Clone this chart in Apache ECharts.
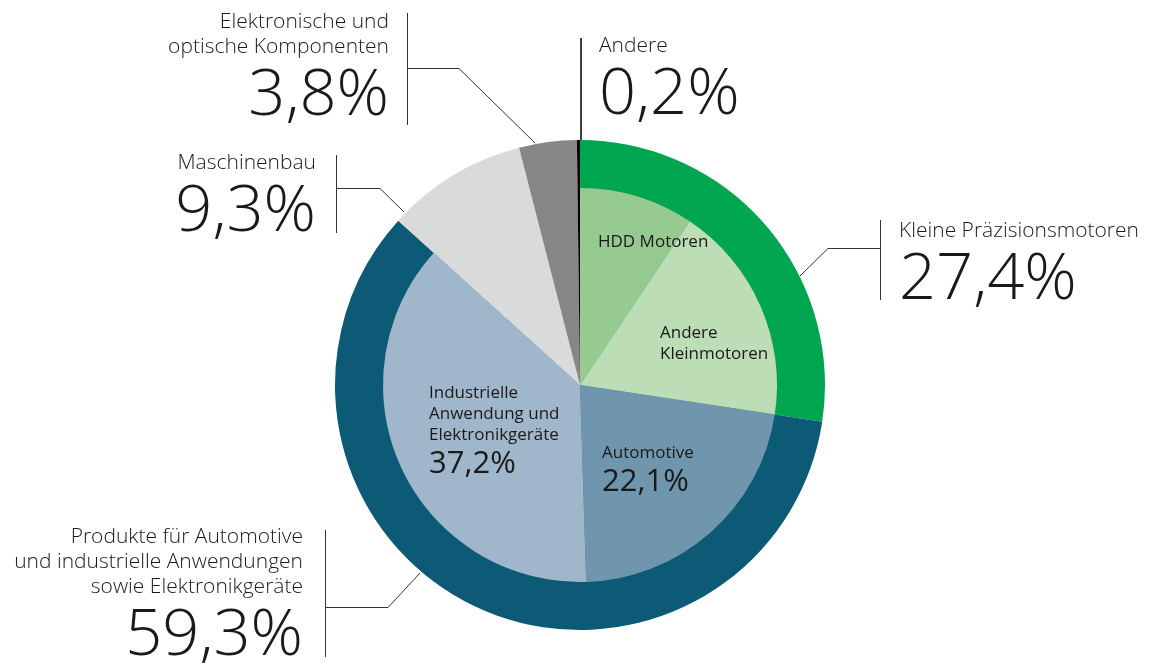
<!DOCTYPE html>
<html>
<head>
<meta charset="utf-8">
<script src="https://cdn.jsdelivr.net/npm/echarts@6/dist/echarts.min.js"></script>
<style>
  html, body { margin: 0; padding: 0; background: #fff; }
  #chart { width: 1158px; height: 664px; }
</style>
</head>
<body>
<div id="chart"></div>
<script>
// Umsatz nach Segmenten (Prozent)
const segmentNames = [
  'Kleine Präzisionsmotoren',
  'Produkte für Automotive\nund industrielle Anwendungen\nsowie Elektronikgeräte',
  'Maschinenbau',
  'Elektronische und\noptische Komponenten',
  'Andere'
];
const segmentValues = [27.4, 59.3, 9.3, 3.8, 0.2];

// Aufteilung der beiden großen Segmente
const subNames = [
  'HDD Motoren',
  'Andere\nKleinmotoren',
  'Automotive',
  'Industrielle\nAnwendung und\nElektronikgeräte'
];
const subValues = [9.4, 18.0, 22.1, 37.2];
const subShowValue = [false, false, true, true];

const FONT = '"Open Sans", "Liberation Sans", sans-serif';
const TEXT = '#1a1a1a';

const segmentColors = ['#00a54f', '#0c5a75', '#d9dada', '#878787', '#000000'];
const subColors = ['#97ca91', '#bcddb5', '#6f96ad', '#a0b7cb'];

const pct = v => v.toFixed(1).replace('.', ',') + '%';

// label anchors (top of text block)
const segmentLabelPos = [
  { x: 899, y: 219, align: 'left' },
  { x: 303, y: 525, align: 'right' },
  { x: 316, y: 151, align: 'right' },
  { x: 389, y: 10, align: 'right' },
  { x: 599, y: 34, align: 'left' }
];
const subLabelPos = [
  { x: 598, y: 232, align: 'left' },
  { x: 660, y: 323, align: 'left' },
  { x: 602, y: 443, align: 'left' },
  { x: 429, y: 383, align: 'left' }
];

// leader lines: connector + vertical bar beside the text
const leaders = [
  [[800, 276], [828, 248.5], [880.5, 248.5]],
  [[880.5, 220], [880.5, 300]],
  [[420, 573], [388, 607.5], [325.5, 607.5]],
  [[325.5, 530], [325.5, 657]],
  [[404, 212], [380, 188.5], [336.5, 188.5]],
  [[336.5, 155], [336.5, 233]],
  [[535, 143], [459, 68.5], [407.5, 68.5]],
  [[407.5, 13], [407.5, 125]]
];

const restValue = +(segmentValues.slice(2).reduce((a, b) => a + b, 0)).toFixed(1);

const outerData = segmentValues.map((v, i) => ({
  name: segmentNames[i], value: v, itemStyle: { color: segmentColors[i] }
}));
const innerData = subValues.map((v, i) => ({
  name: subNames[i], value: v, itemStyle: { color: subColors[i] }
}));
innerData.push({
  name: '', value: restValue,
  itemStyle: { color: 'rgba(0,0,0,0)' },
  label: { show: false }, silent: true
});

const CENTER = [580, 385];

const option = {
  backgroundColor: '#ffffff',
  animation: false,
  series: [
    {
      type: 'pie',
      center: CENTER,
      radius: [0, 245],
      startAngle: 90,
      clockwise: true,
      avoidLabelOverlap: false,
      emphasis: { disabled: true },
      data: outerData,
      labelLine: { show: false },
      label: {
        show: true,
        position: 'outside',
        formatter: p => '{n|' + p.name.split('\n').join('}\n{n|') + '}\n{v|' + pct(p.value) + '}',
        rich: {
          n: { fontFamily: FONT, fontWeight: 300, fontSize: 21, lineHeight: 25, color: TEXT },
          v: { fontFamily: FONT, fontWeight: 300, fontSize: 65, lineHeight: 72, color: TEXT }
        }
      },
      labelLayout: p => Object.assign({ verticalAlign: 'top' }, segmentLabelPos[p.dataIndex])
    },
    {
      type: 'pie',
      center: CENTER,
      radius: [0, 197],
      startAngle: 90,
      clockwise: true,
      avoidLabelOverlap: false,
      emphasis: { disabled: true },
      data: innerData,
      labelLine: { show: false },
      label: {
        show: true,
        position: 'inside',
        formatter: p => {
          let s = '{n|' + p.name.split('\n').join('}\n{n|') + '}';
          if (subShowValue[p.dataIndex]) s += '\n{v|' + pct(p.value) + '}';
          return s;
        },
        rich: {
          n: { fontFamily: FONT, fontSize: 17, lineHeight: 21, color: TEXT },
          v: { fontFamily: FONT, fontSize: 31, lineHeight: 36, color: TEXT }
        }
      },
      labelLayout: p => p.dataIndex < subLabelPos.length
        ? Object.assign({ verticalAlign: 'top' }, subLabelPos[p.dataIndex]) : {}
    }
  ],
  graphic: leaders.map(pts => ({
    type: 'polyline',
    z: 10,
    shape: { points: pts },
    style: { stroke: '#333', lineWidth: 1, fill: null }
  })).concat([{
    type: 'line',
    z: 10,
    shape: { x1: 581, y1: 38, x2: 581, y2: 140 },
    style: { stroke: '#000', lineWidth: 1.5 }
  }])
};

const chart = echarts.init(document.getElementById('chart'), null, { renderer: 'canvas' });
chart.setOption(option);
</script>
</body>
</html>
